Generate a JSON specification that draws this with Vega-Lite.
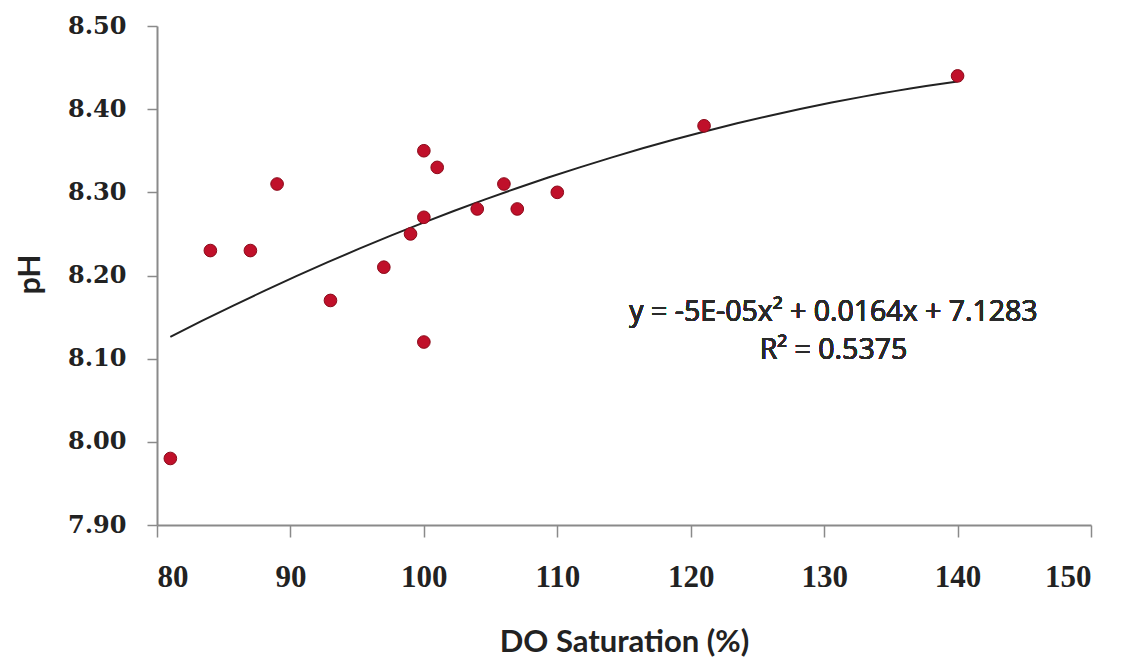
{
  "$schema": "https://vega.github.io/schema/vega-lite/v6.json",
  "width": 934,
  "height": 499,
  "autosize": {"type": "none"},
  "padding": {"left": 157, "top": 26, "right": 33, "bottom": 135},
  "background": "white",
  "config": {"view": {"stroke": null}},
  "data": {
    "values": [
      {"do": 81, "ph": 7.98},
      {"do": 84, "ph": 8.23},
      {"do": 87, "ph": 8.23},
      {"do": 89, "ph": 8.31},
      {"do": 93, "ph": 8.17},
      {"do": 97, "ph": 8.21},
      {"do": 99, "ph": 8.25},
      {"do": 100, "ph": 8.35},
      {"do": 100, "ph": 8.27},
      {"do": 100, "ph": 8.12},
      {"do": 101, "ph": 8.33},
      {"do": 104, "ph": 8.28},
      {"do": 106, "ph": 8.31},
      {"do": 107, "ph": 8.28},
      {"do": 110, "ph": 8.30},
      {"do": 121, "ph": 8.38},
      {"do": 140, "ph": 8.44}
    ]
  },
  "encoding": {
    "x": {
      "field": "do",
      "type": "quantitative",
      "scale": {"domain": [80, 150], "nice": false, "zero": false},
      "axis": {
        "title": "DO Saturation (%)",
        "values": [80, 90, 100, 110, 120, 130, 140, 150],
        "grid": false,
        "domainColor": "#8a8a8a",
        "domainWidth": 2,
        "tickColor": "#8a8a8a",
        "tickWidth": 1.5,
        "tickSize": 12,
        "labelFont": "Liberation Serif",
        "labelFontWeight": "bold",
        "labelFontSize": 31,
        "labelColor": "#222222",
        "labelBaseline": "middle",
        "labelPadding": 40,
        "titleFont": "Lato",
        "titleFontWeight": "bold",
        "titleFontSize": 31,
        "titleColor": "#222222",
        "titleY": 117,
        "titleBaseline": "middle"
      }
    },
    "y": {
      "field": "ph",
      "type": "quantitative",
      "scale": {"domain": [7.9, 8.5], "nice": false, "zero": false},
      "axis": {
        "title": "pH",
        "values": [7.9, 8.0, 8.1, 8.2, 8.3, 8.4, 8.5],
        "format": ".2f",
        "grid": false,
        "domainColor": "#8a8a8a",
        "domainWidth": 2,
        "tickColor": "#8a8a8a",
        "tickWidth": 1.5,
        "tickSize": 10,
        "labelFont": "DejaVu Serif",
        "labelFontWeight": "bold",
        "labelFontSize": 24,
        "labelColor": "#222222",
        "labelPadding": 21,
        "titleFont": "Lato",
        "titleFontWeight": "bold",
        "titleFontSize": 30,
        "titleColor": "#222222",
        "titleX": -127,
        "titleY": 248,
        "titleAngle": -90,
        "titleAlign": "center",
        "titleBaseline": "middle"
      }
    }
  },
  "layer": [
    {
      "transform": [
        {"regression": "ph", "on": "do", "method": "poly", "order": 2}
      ],
      "mark": {"type": "line", "color": "#222222", "strokeWidth": 2}
    },
    {
      "mark": {
        "type": "point",
        "filled": true,
        "size": 160,
        "color": "#C0102A",
        "stroke": "#8B0A1A",
        "strokeWidth": 1,
        "opacity": 1
      }
    },
    {
      "mark": {
        "type": "text",
        "font": "Open Sans",
        "fontSize": 28.5,
        "color": "#2a2a2a",
        "align": "center",
        "baseline": "middle",
        "lineHeight": 38,
        "text": ["y = -5E-05x² + 0.0164x + 7.1283", "R² = 0.5375"]
      },
      "encoding": {
        "x": {"datum": 130.7},
        "y": {"datum": 8.156}
      }
    }
  ]
}
